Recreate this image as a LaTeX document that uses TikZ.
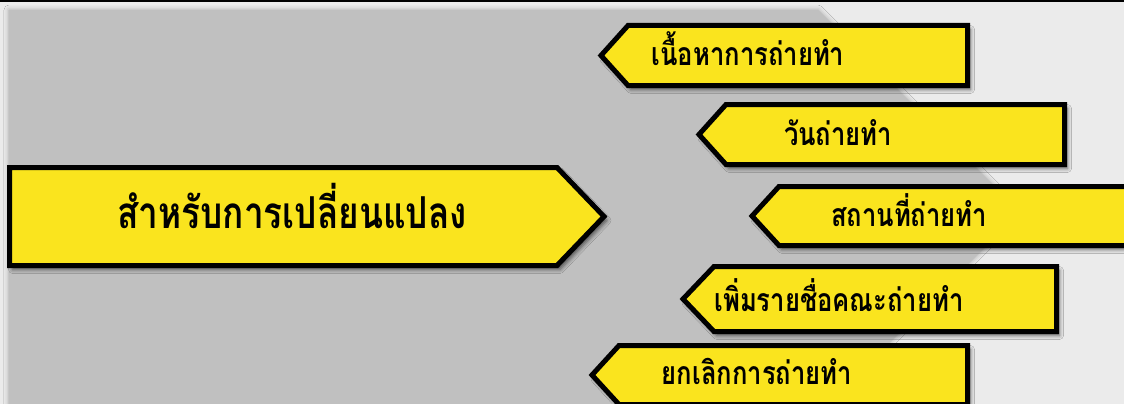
\documentclass[tikz,border=0pt]{standalone}
\usepackage{fontspec}
\newfontfamily\thaifont[Script=Thai,FakeStretch=0.8]{Loma}
\usetikzlibrary{shadows.blur}
\definecolor{bgc}{RGB}{235,235,235}
\definecolor{panel}{RGB}{192,192,192}
\definecolor{sign}{RGB}{250,228,30}
\begin{document}
\begin{tikzpicture}[x=1pt,y=-1pt,
  signbox/.style={fill=sign, draw=black, line width=5pt, line join=miter,
    blur shadow={shadow xshift=3pt, shadow yshift=-4pt, shadow blur radius=4pt, shadow opacity=60}},
  panelshape/.style={fill=panel, blur shadow={shadow xshift=0pt, shadow yshift=0pt, shadow blur radius=5pt, shadow opacity=30}},
  lbl/.style={font=\thaifont\bfseries\fontsize{32}{32}\selectfont, anchor=base, inner sep=0pt},
  mainlbl/.style={font=\thaifont\bfseries\fontsize{44}{44}\selectfont, anchor=base, inner sep=0pt}]
\useasboundingbox (0,0) rectangle (1124,404);
\clip (0,0) rectangle (1124,404);
\fill[bgc] (0,0) rectangle (1124,404);
\fill[panelshape] (9,10) -- (818,10) -- (1020,212) -- (818,414) -- (9,414) -- cycle;
\fill[black] (0,0) rectangle (1124,2.5);
% main sign
\draw[signbox] (9.5,167.5) -- (557,167.5) -- (604,216.5) -- (557,265.5) -- (9.5,265.5) -- cycle;
\node[mainlbl] (main) at (292,228) {สำหรับการเปลี่ยนแปลง};
% option signs
\draw[signbox] (601,55.5) -- (628,25.5) -- (967.5,25.5) -- (967.5,85.5) -- (628,85.5) -- cycle;
\node[lbl] (o1) at (748,66) {เนื้อหาการถ่ายทำ};
\draw[signbox] (699,134.5) -- (726,104.5) -- (1064.5,104.5) -- (1064.5,164.5) -- (726,164.5) -- cycle;
\node[lbl] (o2) at (838,145) {วันถ่ายทำ};
\draw[signbox] (752,216) -- (779,186.5) -- (1140,186.5) -- (1140,245.5) -- (779,245.5) -- cycle;
\node[lbl] (o3) at (909,226) {สถานที่ถ่ายทำ};
\draw[signbox] (683,299) -- (714,266.5) -- (1056.5,266.5) -- (1056.5,331.5) -- (714,331.5) -- cycle;
\node[lbl] (o4) at (839,311) {เพิ่มรายชื่อคณะถ่ายทำ};
\draw[signbox] (592,375) -- (619,345.5) -- (967.5,345.5) -- (967.5,404.5) -- (619,404.5) -- cycle;
\node[lbl] (o5) at (757,384) {ยกเลิกการถ่ายทำ};
\end{tikzpicture}
\end{document}
